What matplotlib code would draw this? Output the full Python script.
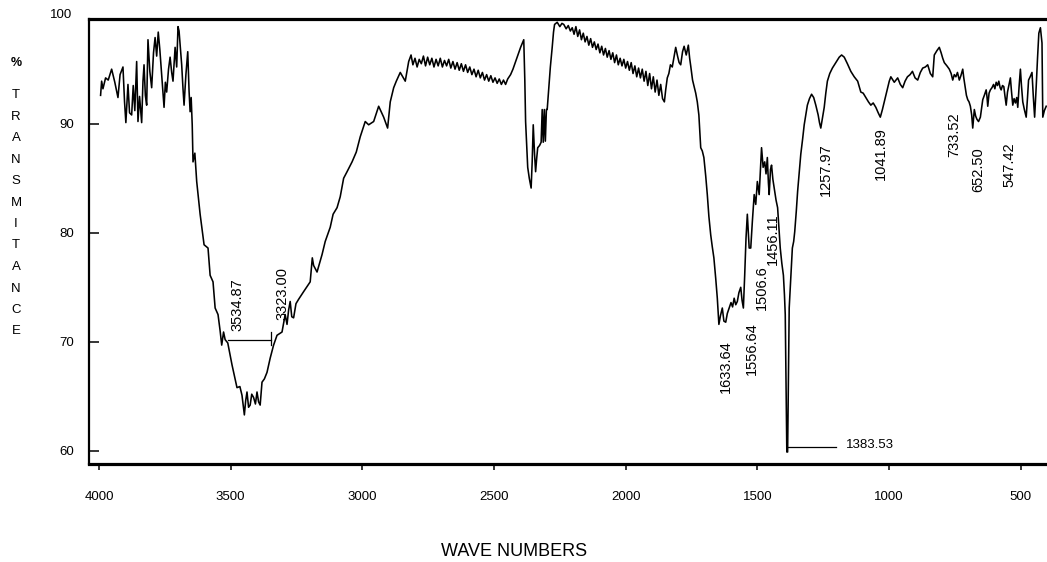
import matplotlib
matplotlib.use("Agg")
import matplotlib.pyplot as plt

# traced IR spectrum, (wave number cm-1, % transmittance) pairs per region
oh_band = [
    (3994, 92.6), (3990, 93.9), (3985, 93.2), (3975, 94.2), (3965, 94.0), (3952, 95.0),
    (3940, 93.8), (3928, 92.4), (3920, 94.5), (3909, 95.2), (3903, 92.0), (3898, 90.1),
    (3890, 93.6), (3884, 91.0), (3876, 90.8), (3870, 93.5), (3864, 91.2), (3857, 95.7),
    (3852, 90.2), (3846, 92.5), (3838, 90.1), (3833, 93.9), (3829, 95.4), (3824, 92.6),
    (3819, 91.7), (3814, 97.7), (3807, 94.8), (3800, 93.3), (3793, 96.5), (3787, 97.9),
    (3781, 96.2), (3775, 98.4), (3769, 96.8), (3762, 94.5), (3753, 91.5), (3748, 93.8),
    (3743, 92.9), (3736, 95.0), (3730, 96.1), (3724, 94.7), (3719, 93.9), (3711, 97.0),
    (3705, 95.2), (3700, 98.9), (3696, 98.5), (3691, 96.9), (3686, 95.4), (3681, 93.2),
    (3677, 91.7), (3670, 94.5), (3663, 96.6), (3658, 93.0), (3654, 91.1), (3650, 92.4),
    (3646, 89.9), (3643, 86.5), (3636, 87.3), (3629, 84.7), (3616, 81.7), (3601, 78.9),
    (3586, 78.6), (3578, 76.1), (3567, 75.5), (3559, 73.1), (3548, 72.5), (3540, 71.0),
    (3534, 69.7), (3527, 70.9), (3521, 70.2), (3511, 69.9), (3495, 67.9), (3476, 65.8),
    (3465, 65.9), (3457, 65.1), (3448, 63.3), (3443, 64.6), (3438, 65.4), (3432, 64.0),
    (3426, 64.2), (3420, 65.2), (3413, 64.9), (3406, 64.3), (3400, 65.4), (3394, 64.5),
    (3388, 64.2), (3381, 66.3), (3372, 66.6), (3362, 67.2), (3350, 68.5), (3337, 69.7),
    (3324, 70.6), (3305, 70.9), (3293, 72.5), (3286, 71.6), (3280, 72.9), (3274, 73.7),
    (3268, 72.3), (3261, 72.2), (3252, 73.5), (3242, 73.9), (3223, 74.6), (3198, 75.5),
    (3190, 77.7), (3185, 77.0), (3172, 76.4), (3153, 78.0), (3141, 79.2), (3122, 80.5),
    (3111, 81.7), (3096, 82.3), (3084, 83.3), (3071, 85.0), (3058, 85.6), (3039, 86.5),
    (3023, 87.4), (3008, 88.8), (2989, 90.2), (2976, 89.9), (2957, 90.2), (2938, 91.6),
    (2919, 90.6), (2904, 89.6), (2894, 92.0), (2881, 93.3), (2871, 93.9), (2856, 94.7),
    (2837, 93.9), (2824, 95.7), (2815, 96.3),
]

mid_region = [
    (2808, 95.4), (2800, 96.0), (2792, 95.2), (2784, 95.9), (2776, 95.5), (2768, 96.2),
    (2760, 95.3), (2752, 96.1), (2744, 95.4), (2736, 96.0), (2728, 95.2), (2720, 95.9),
    (2712, 95.3), (2704, 96.0), (2696, 95.2), (2688, 95.8), (2680, 95.3), (2672, 95.9),
    (2664, 95.1), (2656, 95.7), (2648, 95.0), (2640, 95.6), (2632, 94.9), (2624, 95.5),
    (2616, 94.8), (2608, 95.4), (2600, 94.7), (2592, 95.2), (2584, 94.5), (2576, 95.0),
    (2568, 94.3), (2560, 94.9), (2552, 94.2), (2544, 94.7), (2536, 94.0), (2528, 94.5),
    (2520, 93.9), (2512, 94.4), (2504, 93.8), (2496, 94.2), (2488, 93.7), (2480, 94.1),
    (2472, 93.6), (2464, 94.0), (2456, 93.6), (2448, 94.1), (2437, 94.5), (2428, 95.0),
    (2418, 95.7), (2408, 96.4), (2399, 97.0), (2392, 97.4), (2387, 97.7), (2383, 94.0),
    (2380, 90.2), (2372, 86.0), (2366, 85.0), (2359, 84.1), (2355, 86.5), (2351, 89.9),
    (2346, 87.2), (2342, 85.6), (2338, 86.8), (2334, 87.8), (2327, 88.0), (2321, 88.3),
    (2317, 91.3), (2313, 88.3), (2309, 91.3), (2305, 88.4), (2301, 91.3), (2298, 91.3),
    (2292, 93.3), (2286, 95.2), (2279, 97.0), (2274, 98.4), (2270, 99.1), (2260, 99.3),
    (2250, 98.9), (2242, 99.2), (2235, 99.1), (2226, 98.7), (2218, 99.0), (2210, 98.5),
    (2203, 98.8), (2196, 98.2), (2189, 98.9), (2182, 98.0), (2175, 98.6), (2168, 97.7),
    (2161, 98.3), (2154, 97.5), (2147, 98.0), (2140, 97.2), (2133, 97.8), (2126, 97.0),
    (2119, 97.5), (2112, 96.8), (2105, 97.3), (2098, 96.5), (2091, 97.1), (2084, 96.3),
    (2077, 96.9), (2070, 96.1), (2063, 96.7), (2056, 95.9), (2049, 96.5), (2042, 95.6),
    (2035, 96.3), (2028, 95.4), (2021, 96.0), (2014, 95.3), (2007, 95.9), (2000, 95.1),
    (1993, 95.7), (1986, 94.9), (1979, 95.6), (1972, 94.6), (1965, 95.3), (1958, 94.3),
    (1951, 95.1), (1944, 94.2), (1937, 95.0), (1930, 93.9), (1923, 94.8), (1916, 93.5),
    (1909, 94.6), (1902, 93.2), (1895, 94.3), (1888, 92.9), (1881, 94.0), (1874, 92.6),
    (1867, 93.6), (1860, 92.3), (1853, 92.0),
]

fingerprint = [
    (1848, 93.1), (1842, 94.2), (1836, 94.6), (1830, 95.4), (1823, 95.2), (1816, 96.2),
    (1810, 97.0), (1803, 96.2), (1797, 95.6), (1791, 95.4), (1784, 96.6), (1778, 97.1),
    (1770, 96.3), (1762, 97.2), (1757, 96.0), (1753, 95.3), (1746, 94.0), (1740, 93.4),
    (1734, 92.8), (1728, 92.0), (1722, 90.8), (1715, 87.8), (1709, 87.5), (1703, 86.9),
    (1696, 85.2), (1690, 83.5), (1684, 81.5), (1677, 79.8), (1671, 78.7), (1665, 77.7),
    (1658, 75.8), (1652, 74.0), (1646, 71.6), (1640, 72.4), (1633, 73.1), (1627, 71.9),
    (1620, 71.8), (1614, 72.6), (1607, 73.1), (1600, 73.6), (1594, 73.2), (1588, 74.0),
    (1582, 73.4), (1576, 73.7), (1570, 74.5), (1563, 75.0), (1558, 73.8), (1553, 73.1),
    (1548, 76.1), (1543, 79.5), (1538, 81.7), (1531, 78.6), (1525, 78.6), (1519, 81.0),
    (1512, 83.5), (1506, 82.6), (1500, 84.7), (1493, 83.5), (1488, 86.0), (1484, 87.8),
    (1478, 86.0), (1472, 86.5), (1467, 85.4), (1462, 86.9), (1458, 84.6), (1455, 83.5),
    (1450, 85.8), (1446, 86.2), (1441, 84.9), (1436, 84.1), (1429, 83.0), (1423, 82.3),
    (1418, 80.5), (1413, 78.6), (1407, 77.2), (1401, 76.1), (1397, 74.3), (1394, 72.5),
    (1391, 66.0), (1388, 59.9), (1385, 59.9), (1382, 66.5), (1379, 73.1), (1373, 75.9),
    (1367, 78.6), (1362, 79.2), (1358, 80.1), (1352, 82.0), (1347, 83.8), (1341, 85.5),
    (1335, 87.2), (1328, 88.6), (1322, 89.9), (1316, 90.8), (1310, 91.7), (1302, 92.3),
    (1294, 92.7), (1286, 92.4), (1278, 91.7), (1273, 91.2), (1269, 90.8), (1264, 90.1),
    (1259, 89.6), (1252, 90.6), (1246, 91.5), (1240, 92.8), (1234, 93.9), (1225, 94.6),
    (1215, 95.1), (1202, 95.6), (1189, 96.1), (1180, 96.3), (1170, 96.1), (1158, 95.5),
    (1145, 94.8), (1132, 94.3), (1119, 93.9), (1107, 92.9), (1098, 92.8), (1088, 92.4),
    (1078, 92.0), (1069, 91.7), (1060, 91.9), (1050, 91.5), (1041, 91.0), (1033, 90.6),
    (1025, 91.3), (1018, 92.0), (1011, 92.7), (1005, 93.3), (999, 93.9), (993, 94.3),
    (980, 93.8), (967, 94.2), (957, 93.6), (948, 93.3), (939, 93.9), (930, 94.3),
    (920, 94.5), (911, 94.8), (901, 94.2), (891, 94.0), (881, 94.7), (872, 95.1),
    (862, 95.2), (853, 95.4), (843, 94.6), (834, 94.3), (828, 96.3), (818, 96.7),
    (809, 97.0), (802, 96.5), (796, 96.0), (790, 95.6), (780, 95.3), (771, 95.0),
    (764, 94.6), (758, 94.0), (752, 94.5), (746, 94.3), (740, 94.7), (733, 94.0),
    (727, 94.4), (720, 95.0), (716, 94.2), (711, 93.4), (706, 92.6), (701, 92.2),
    (696, 92.0), (691, 91.6), (686, 90.8), (682, 89.6), (679, 90.5), (676, 91.3),
    (671, 90.7), (666, 90.4), (660, 90.2), (653, 90.6), (648, 91.5), (644, 92.2),
    (638, 92.6), (631, 93.1), (628, 92.5), (625, 91.6), (620, 92.8), (615, 93.1),
    (609, 93.3), (603, 93.6), (598, 93.2), (593, 93.8), (588, 93.5), (583, 93.9),
    (578, 93.3), (574, 93.1), (569, 93.5), (564, 93.4), (560, 92.6), (555, 91.7),
    (550, 92.9), (545, 93.5), (539, 94.2), (535, 93.0), (530, 91.7), (525, 92.3),
    (520, 91.9), (515, 92.4), (511, 91.5), (506, 93.4), (501, 95.0), (497, 93.5),
    (492, 92.0), (486, 91.3), (479, 90.6), (474, 92.4), (470, 94.0), (464, 94.3),
    (457, 94.7), (452, 92.5), (447, 90.6), (444, 92.0), (441, 93.4), (436, 96.0),
    (431, 98.3), (425, 98.8), (419, 97.4), (416, 90.6), (410, 91.2), (403, 91.6),
]

# peak labels written along the curve
peak_labels = ["3534.87", "3323.00", "1633.64", "1556.64", "1506.6", "1456.11",
               "1257.97", "1041.89", "733.52", "652.50", "547.42"]
peak_label_x = [3475, 3304, 1620, 1521, 1483, 1441, 1240, 1031, 753, 662, 544]
peak_label_y = [73.4, 74.4, 67.7, 69.4, 75.0, 79.4, 85.8, 87.3, 89.0, 85.8, 86.2]

spectrum = oh_band + mid_region + fingerprint
wavenumber = [p[0] for p in spectrum]
transmittance = [p[1] for p in spectrum]

font = "Liberation Sans"

fig = plt.figure(figsize=(10.47, 5.62), dpi=100)
ax = fig.add_axes([0.085, 0.1744, 0.915, 0.7918])

ax.plot(wavenumber, transmittance, color="black", lw=1.15)

ax.set_xlim(4038, 400)
ax.set_ylim(58.8, 99.6)

ax.set_xticks([4000, 3500, 3000, 2500, 2000, 1500, 1000, 500])
ax.set_yticks([60, 70, 80, 90])
for lab in ax.get_xticklabels() + ax.get_yticklabels():
    lab.set_fontfamily(font)
    lab.set_fontsize(9.5)
ax.tick_params(axis="y", direction="in", length=7, width=1.1, pad=11)
ax.tick_params(axis="x", direction="out", length=4.5, width=1.1, pad=15)
ax.text(-0.018, 100, "100", transform=ax.get_yaxis_transform(), ha="right",
        va="center", fontsize=9.5, family=font, clip_on=False)

ax.spines["right"].set_visible(False)
ax.spines["top"].set_linewidth(2.3)
ax.spines["bottom"].set_linewidth(2.3)
ax.spines["left"].set_linewidth(1.6)

for txt, x, y in zip(peak_labels, peak_label_x, peak_label_y):
    ax.text(x, y, txt, rotation=90, ha="center", va="center", fontsize=10.5, family=font)

# bracket between 3534.87 and 3323.00
ax.plot([3510, 3346], [70.2, 70.2], color="black", lw=0.9)
ax.plot([3346, 3346], [69.7, 70.9], color="black", lw=0.9)

# leader for the strong 1383.53 band
ax.plot([1384, 1202], [60.37, 60.37], color="black", lw=0.9)
ax.text(1164, 60.5, "1383.53", ha="left", va="center", fontsize=9.5, family=font)

fig.text(0.491, 0.018, "WAVE NUMBERS", ha="center", va="center", fontsize=13, family=font)

letters = "TRANSMITANCE"
fig.text(16 / 1047, 1 - 63 / 562, "%", ha="center", va="center", fontsize=9,
         family=font, weight="bold")
for i, ch in enumerate(letters):
    fig.text(16 / 1047, 1 - (95 + 21.5 * i) / 562, ch, ha="center", va="center",
             fontsize=9.5, family=font)

fig.savefig("out.png", dpi=100)
